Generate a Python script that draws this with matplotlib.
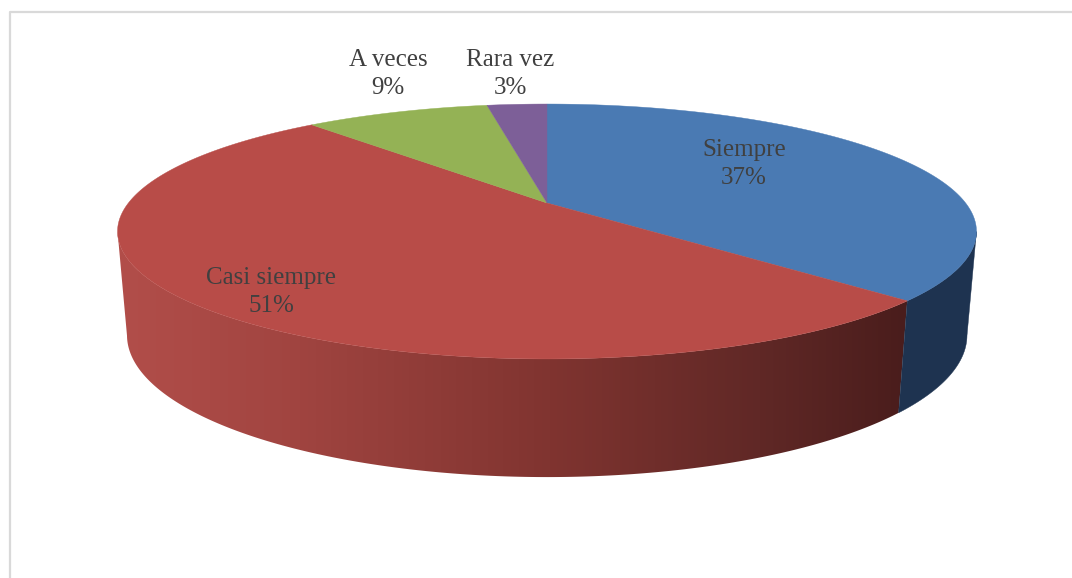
import numpy as np
import matplotlib
matplotlib.use('Agg')
import matplotlib.pyplot as plt
from matplotlib.patches import Polygon

# Chart data
categories = ['Siempre', 'Casi siempre', 'A veces', 'Rara vez']
percent_labels = ['37%', '51%', '9%', '3%']
slice_values = [37.0, 51.6, 8.6, 2.8]

# Style
top_colors = ['#4a7ab3', '#b84c48', '#94b255', '#7d5f98']
blue_wall = '#1e3350'
red_wall_x = [120, 300, 550, 760, 905]
red_wall_r = [178, 160, 128, 96, 74]
red_wall_g = [78, 68, 52, 40, 29]
red_wall_b = [74, 64, 48, 38, 28]
label_pos = [(744, 164), (271, 292), (388, 74), (510, 74)]

# Perspective circle parameters, in picture pixels
top_disc = dict(cx=547, cy=203, A=418.6, B=121.1, k=0.2235)
bottom_disc = dict(cx=547, cy=304, A=409.7, B=135.0, k=0.22)


def project(theta, disc):
    # theta is clockwise from the top of the pie, in radians
    u, v = np.sin(theta), np.cos(theta)
    w = 1 + disc['k'] * v
    return disc['cx'] + disc['A'] * u / w, disc['cy'] - disc['B'] * v / w


def wall_outline(t0, t1):
    t = np.linspace(t0, t1, 200)
    xa, ya = project(t, top_disc)
    xb, yb = project(t[::-1], bottom_disc)
    return np.r_[xa, xb], np.r_[ya, yb]


def main():
    fig = plt.figure(figsize=(10.72, 5.78), dpi=100)
    ax = fig.add_axes([0, 0, 1, 1])

    # chart frame
    ax.plot([9.5, 9.5, 1072], [578, 11.5, 11.5], color='#d9d9d9', lw=1.6)

    edges = np.radians(np.cumsum([0] + slice_values) * 3.6)

    # side wall, only the part facing the viewer
    start = np.pi / 2 + np.arcsin(top_disc['k'])
    stop = 2 * np.pi - start

    x, y = wall_outline(start, edges[1])
    ax.fill(x, y, color=blue_wall, lw=0.3)

    x, y = wall_outline(edges[1], stop)
    xs = np.arange(100, 921)
    gradient = np.stack([np.interp(xs, red_wall_x, red_wall_r),
                         np.interp(xs, red_wall_x, red_wall_g),
                         np.interp(xs, red_wall_x, red_wall_b)], axis=-1) / 255
    img = ax.imshow(gradient[np.newaxis, :, :], extent=(100, 920, 500, 200),
                    aspect='auto', interpolation='bilinear')
    clip = Polygon(np.c_[x, y], closed=True, transform=ax.transData)
    img.set_clip_path(clip)

    # top surface
    for i, color in enumerate(top_colors):
        theta = np.linspace(edges[i], edges[i + 1], 200)
        x, y = project(theta, top_disc)
        x = np.r_[top_disc['cx'], x]
        y = np.r_[top_disc['cy'], y]
        ax.fill(x, y, color=color, lw=0.3)

    for name, pct, (x, y) in zip(categories, percent_labels, label_pos):
        ax.text(x, y, name + '\n' + pct, ha='center', va='center',
                fontsize=18, family='Liberation Serif', color='#404040',
                linespacing=1.3)

    ax.set_xlim(0, 1072)
    ax.set_ylim(578, 0)
    ax.axis('off')
    fig.savefig('out.png', dpi=100)


if __name__ == "__main__":
    main()
